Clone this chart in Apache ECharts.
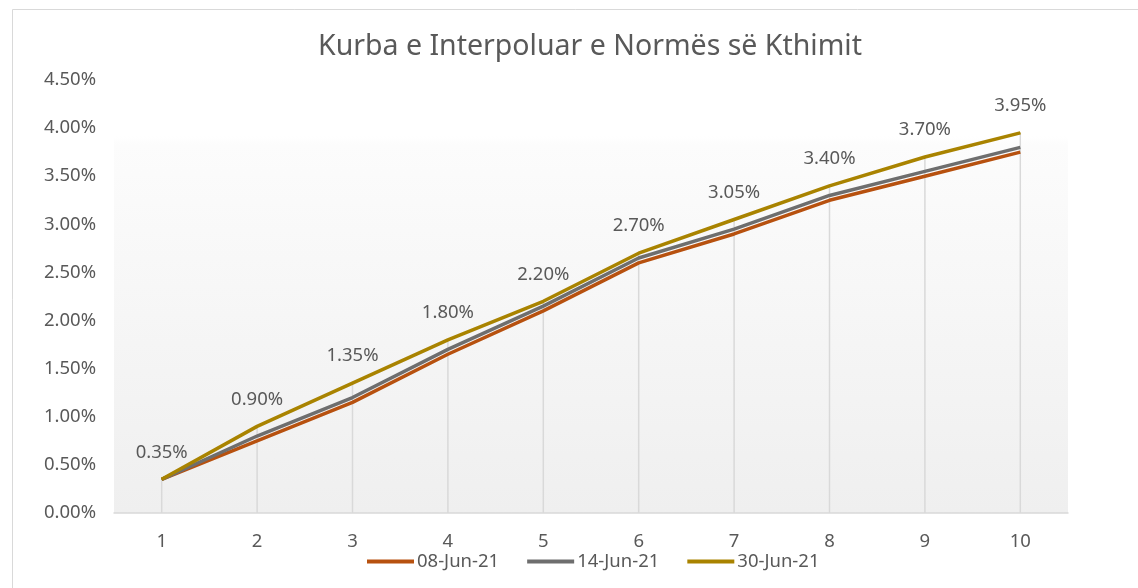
<!DOCTYPE html>
<html>
<head>
<meta charset="utf-8">
<script src="https://cdn.jsdelivr.net/npm/echarts@6/dist/echarts.min.js"></script>
<style>
  html, body { margin: 0; padding: 0; background: #fff; }
  #chart { width: 1138px; height: 588px; }
</style>
</head>
<body>
<div id="chart"></div>
<script>
// kategorite (maturimi ne vite)
var categories = ['1', '2', '3', '4', '5', '6', '7', '8', '9', '10'];

// normat ne perqindje
var jun08 = [0.35, 0.75, 1.15, 1.65, 2.10, 2.60, 2.90, 3.25, 3.50, 3.75];
var jun14 = [0.35, 0.80, 1.20, 1.70, 2.15, 2.65, 2.95, 3.30, 3.55, 3.80];
var jun30 = [0.35, 0.90, 1.35, 1.80, 2.20, 2.70, 3.05, 3.40, 3.70, 3.95];

var seriesNames = ['08-Jun-21', '14-Jun-21', '30-Jun-21'];

var myChart = echarts.init(document.getElementById('chart'), null, { renderer: 'canvas' });

var txt = '#595959';
var font = 'Noto Sans';
var fs = 18.5;

option = {
  backgroundColor: '#fff',
  animation: false,
  title: {
    text: 'Kurba e Interpoluar e Normës së Kthimit',
    left: 313,
    top: 27,
    textStyle: { color: txt, fontSize: 28.5, fontWeight: 'normal', fontFamily: font }
  },
  // kornize e grafikut
  graphic: [
    {
      type: 'rect',
      left: 10, top: 7,
      shape: { width: 1140, height: 600 },
      style: { fill: 'none', stroke: '#d9d9d9', lineWidth: 1 },
      silent: true
    }
  ],
  legend: {
    data: seriesNames,
    bottom: 12,
    left: 362,
    icon: 'rect',
    itemWidth: 47,
    itemHeight: 4,
    itemGap: 28,
    textStyle: { color: txt, fontSize: fs, fontFamily: font, padding: [0, 0, 0, -2] }
  },
  grid: {
    left: 114,
    right: 70,
    top: 80,
    bottom: 75,
    show: true,
    borderWidth: 0,
    backgroundColor: new echarts.graphic.LinearGradient(0, 0, 0, 1, [
      { offset: 0, color: '#ffffff' },
      { offset: 0.13, color: '#ffffff' },
      { offset: 0.15, color: '#fcfcfc' },
      { offset: 1, color: '#efefef' }
    ])
  },
  xAxis: {
    type: 'category',
    data: categories,
    boundaryGap: true,
    axisLine: { lineStyle: { color: '#d9d9d9', width: 1.5 } },
    axisTick: { show: false },
    axisLabel: { color: txt, fontSize: fs, fontFamily: font, margin: 19 },
    splitLine: { show: false }
  },
  yAxis: {
    type: 'value',
    min: 0,
    max: 4.5,
    interval: 0.5,
    axisLine: { show: false },
    axisTick: { show: false },
    splitLine: { show: false },
    axisLabel: {
      color: txt, fontSize: fs, fontFamily: font, margin: 18,
      formatter: function (v) { return v.toFixed(2) + '%'; }
    }
  },
  series: [
    // vijat vertikale deri te pika me e larte
    {
      name: 'drop',
      type: 'bar',
      data: jun30,
      barWidth: 1.5,
      silent: true,
      z: 1,
      itemStyle: { color: '#d9d9d9' }
    },
    {
      name: seriesNames[0],
      type: 'line',
      data: jun08,
      symbol: 'none',
      z: 3,
      color: '#b7510f',
      lineStyle: { width: 3.5, color: '#b7510f' }
    },
    {
      name: seriesNames[1],
      type: 'line',
      data: jun14,
      symbol: 'none',
      z: 4,
      color: '#6e6e6e',
      lineStyle: { width: 3.5, color: '#6e6e6e' }
    },
    {
      name: seriesNames[2],
      type: 'line',
      data: jun30,
      symbol: 'circle',
      symbolSize: 1,
      showSymbol: true,
      z: 5,
      color: '#a98300',
      itemStyle: { color: '#a98300' },
      lineStyle: { width: 3.5, color: '#a98300' },
      label: {
        show: true,
        position: 'top',
        distance: 17,
        color: txt,
        fontSize: fs,
        fontFamily: font,
        formatter: function (p) { return p.value.toFixed(2) + '%'; }
      }
    }
  ]
};

myChart.setOption(option);
</script>
</body>
</html>
